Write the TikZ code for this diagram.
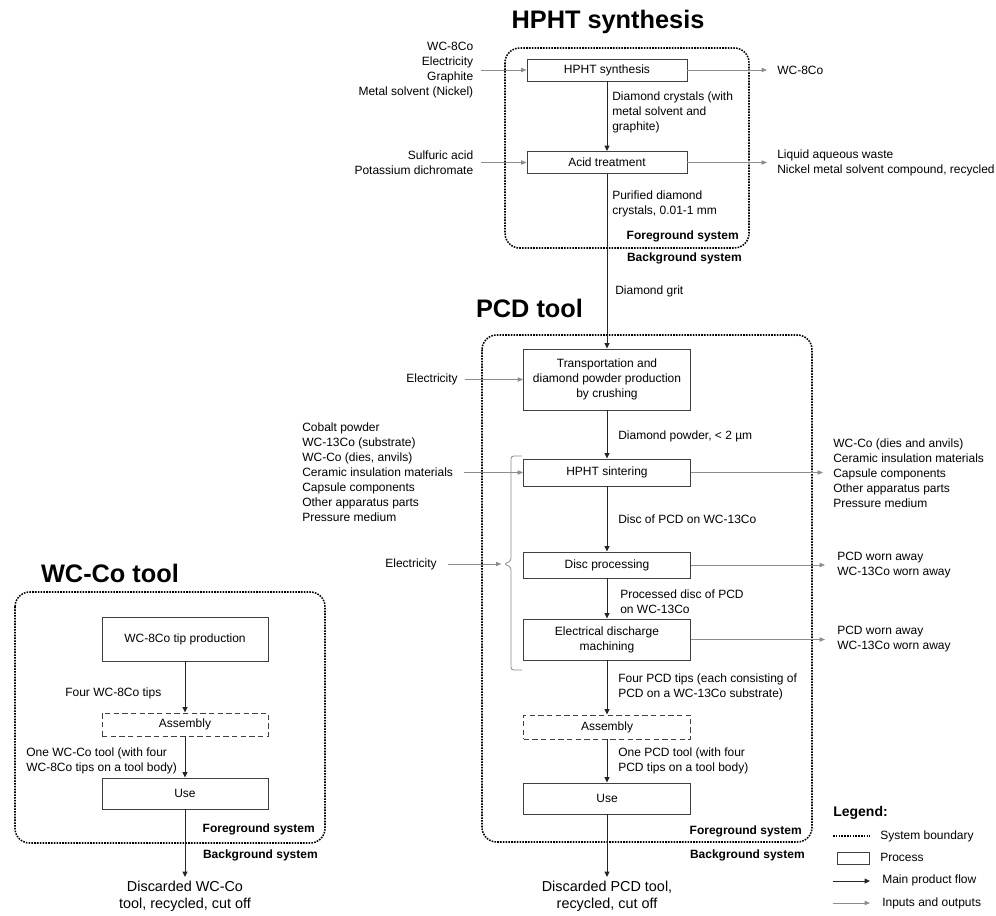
\documentclass[tikz,border=0pt]{standalone}
\usepackage{fontspec}
\setmainfont{Liberation Sans}
\usetikzlibrary{arrows.meta}

\tikzset{
    proc/.style={draw=black!75, line width=0.7pt, inner sep=0pt, align=center,
        font=\fontsize{9}{11.25}\selectfont},
    asm/.style={proc, dash pattern=on 4pt off 2.5pt},
    sysb/.style={line width=1.15pt, dash pattern=on 1.2pt off 0.9pt, rounded corners=11pt},
    main/.style={draw=black!85, line width=0.75pt, -{Triangle[length=4pt,width=3.6pt]}},
    io/.style={draw=black!45, line width=0.6pt, -{Triangle[length=4pt,width=3.2pt]}},
    lbl/.style={inner sep=0pt, align=left, font=\fontsize{9}{11.25}\selectfont},
    ttl/.style={inner sep=0pt, font=\fontsize{19}{22}\selectfont\bfseries},
    sysl/.style={inner sep=0pt, font=\fontsize{9}{11}\selectfont\bfseries},
    endl/.style={inner sep=0pt, align=center, font=\fontsize{10.8}{12.75}\selectfont},
}

\begin{document}
\begin{tikzpicture}[x=0.75pt, y=-0.75pt]
        \useasboundingbox (0,0) rectangle (996,915);

        % HPHT synthesis
        \node[ttl] (tHPHT) at (608,22) {HPHT synthesis};
        \draw[sysb] (505,48) rectangle (749,248);

        \node[proc, minimum width=120pt, minimum height=16.5pt] (hpht) at (607,70) {HPHT synthesis};
        \node[proc, minimum width=120pt, minimum height=16.5pt] (acid) at (607,162.5) {Acid treatment};

        \node[lbl, anchor=east, align=right] (inHpht) at (473.5,70) {WC-8Co\\Electricity\\Graphite\\Metal solvent (Nickel)};
        \node[lbl, anchor=east, align=right] (inAcid) at (473.5,162.5) {Sulfuric acid\\Potassium dichromate};
        \node[lbl, anchor=west] (outHpht) at (777,70) {WC-8Co};
        \node[lbl, anchor=west] (outAcid) at (777,162.5) {Liquid aqueous waste\\Nickel metal solvent compound, recycled};

        \draw[io, shorten <=5.5pt] (inHpht.east) -- (hpht.west);
        \draw[io, shorten <=5.5pt] (inAcid.east) -- (acid.west);
        \draw[io, shorten >=7.5pt] (hpht.east) -- (outHpht.west);
        \draw[io, shorten >=7.5pt] (acid.east) -- (outAcid.west);

        \draw[main] (hpht) -- (acid);
        \node[lbl, anchor=west] (lCrys) at (612,112) {Diamond crystals (with\\metal solvent and\\graphite)};
        \node[lbl, anchor=west] (lPuri) at (612,203.5) {Purified diamond\\crystals, 0.01-1 mm};
        \node[sysl, anchor=east] (fgHpht) at (739,236) {Foreground system};
        \node[sysl, anchor=east] (bgHpht) at (742,258) {Background system};

        % PCD tool
        \node[ttl] (tPcd) at (529.5,308) {PCD tool};
        \draw[sysb] (482,335) rectangle (812,842);

        \node[proc, minimum width=125.25pt, minimum height=45.75pt] (trans) at (607,379.5) {Transportation and\\diamond powder production\\by crushing};
        \node[proc, minimum width=125.25pt, minimum height=20.25pt] (sint) at (607,472.5) {HPHT sintering};
        \node[proc, minimum width=125.25pt, minimum height=19.5pt] (disc) at (607,565) {Disc processing};
        \node[proc, minimum width=125.25pt, minimum height=30.75pt] (edm) at (607,639.5) {Electrical discharge\\machining};
        \node[asm, minimum width=125.25pt, minimum height=18pt] (asmP) at (607,727) {Assembly};
        \node[proc, minimum width=125.25pt, minimum height=23.25pt] (useP) at (607,798.5) {Use};
        \node[endl] (endP) at (607,896.5) {Discarded PCD tool,\\recycled, cut off};

        \draw[main] (acid) -- (trans);
        \draw[main] (trans) -- (sint);
        \draw[main] (sint) -- (disc);
        \draw[main] (disc) -- (edm);
        \draw[main] (edm) -- (asmP);
        \draw[main] (asmP) -- (useP);
        \draw[main, shorten >=3pt] (useP) -- (endP);

        \node[lbl, anchor=west] (lGrit) at (615,291) {Diamond grit};
        \node[lbl, anchor=west] (lPowd) at (618,436) {Diamond powder, < 2 µm};
        \node[lbl, anchor=west] (lDisc) at (618,519) {Disc of PCD on WC-13Co};
        \node[lbl, anchor=west] (lProc) at (620,601.5) {Processed disc of PCD\\on WC-13Co};
        \node[lbl, anchor=west] (lTips) at (618,686.5) {Four PCD tips (each consisting of\\PCD on a WC-13Co substrate)};
        \node[lbl, anchor=west] (lTool) at (618,761) {One PCD tool (with four\\PCD tips on a tool body)};
        \node[sysl, anchor=east] (fgPcd) at (802,831) {Foreground system};
        \node[sysl, anchor=east] (bgPcd) at (805,855) {Background system};

        \node[lbl, anchor=east] (elecA) at (458,379.5) {Electricity};
        \node[lbl, anchor=west] (inSint) at (302,472.5) {Cobalt powder\\WC-13Co (substrate)\\WC-Co (dies, anvils)\\Ceramic insulation materials\\Capsule components\\Other apparatus parts\\Pressure medium};
        \node[lbl, anchor=east] (elecB) at (437,564) {Electricity};
        \coordinate (cusp) at (504,564);

        \draw[io, shorten <=5pt] (elecA.east) -- (trans.west);
        \draw[io, shorten <=8pt] (inSint.east) -- (sint.west);
        \draw[io, shorten <=8pt, shorten >=2pt] (elecB.east) -- (cusp);
        \draw[draw=black!45, line width=0.6pt, rounded corners=2pt]
            (522,456) -- (511,456) -- (511,561) -- (cusp) -- (511,567) -- (511,670) -- (522,670);

        \node[lbl, anchor=west] (outSint) at (833,473) {WC-Co (dies and anvils)\\Ceramic insulation materials\\Capsule components\\Other apparatus parts\\Pressure medium};
        \node[lbl, anchor=west] (outDisc) at (837,565) {PCD worn away\\WC-13Co worn away};
        \node[lbl, anchor=west] (outEdm) at (837,639.5) {PCD worn away\\WC-13Co worn away};

        \draw[io, shorten >=7.5pt] (sint.east) -- (sint.east -| outSint.west);
        \draw[io, shorten >=9pt] (disc.east) -- (outDisc.west);
        \draw[io, shorten >=9pt] (edm.east) -- (outEdm.west);

        % WC-Co tool
        \node[ttl] (tWc) at (110,573) {WC-Co tool};
        \draw[sysb] (15,592) rectangle (325,843);

        \node[proc, minimum width=124.5pt, minimum height=33pt] (tipW) at (185,639) {WC-8Co tip production};
        \node[asm, minimum width=124.5pt, minimum height=17.25pt] (asmW) at (185,724.5) {Assembly};
        \node[proc, minimum width=124.5pt, minimum height=23.25pt] (useW) at (185,793.5) {Use};
        \node[endl] (endW) at (185,896.5) {Discarded WC-Co\\tool, recycled, cut off};

        \draw[main] (tipW) -- (asmW);
        \draw[main] (asmW) -- (useW);
        \draw[main, shorten >=3pt] (useW) -- (endW);

        \node[lbl, anchor=west] (lTipsW) at (65,693) {Four WC-8Co tips};
        \node[lbl, anchor=west] (lToolW) at (26,760.5) {One WC-Co tool (with four\\WC-8Co tips on a tool body)};
        \node[sysl, anchor=east] (fgWc) at (315,829) {Foreground system};
        \node[sysl, anchor=east] (bgWc) at (318,855) {Background system};

        % legend
        \node[sysl, anchor=west, font=\fontsize{10.5}{12}\selectfont\bfseries] (lgTitle) at (833,813) {Legend:};
        \draw[line width=1.15pt, dash pattern=on 1.2pt off 0.9pt] (833,836) -- (870,836);
        \node[lbl, anchor=west] (lgSys) at (880,836) {System boundary};
        \draw[draw=black!75, line width=0.7pt] (837,852) rectangle (869,864);
        \node[lbl, anchor=west] (lgProc) at (880,857) {Process};
        \draw[main] (833,881) -- (870,881);
        \node[lbl, anchor=west] (lgMain) at (882,880) {Main product flow};
        \draw[io] (833,903) -- (870,903);
        \node[lbl, anchor=west] (lgIo) at (882,903) {Inputs and outputs};
\end{tikzpicture}
\end{document}
